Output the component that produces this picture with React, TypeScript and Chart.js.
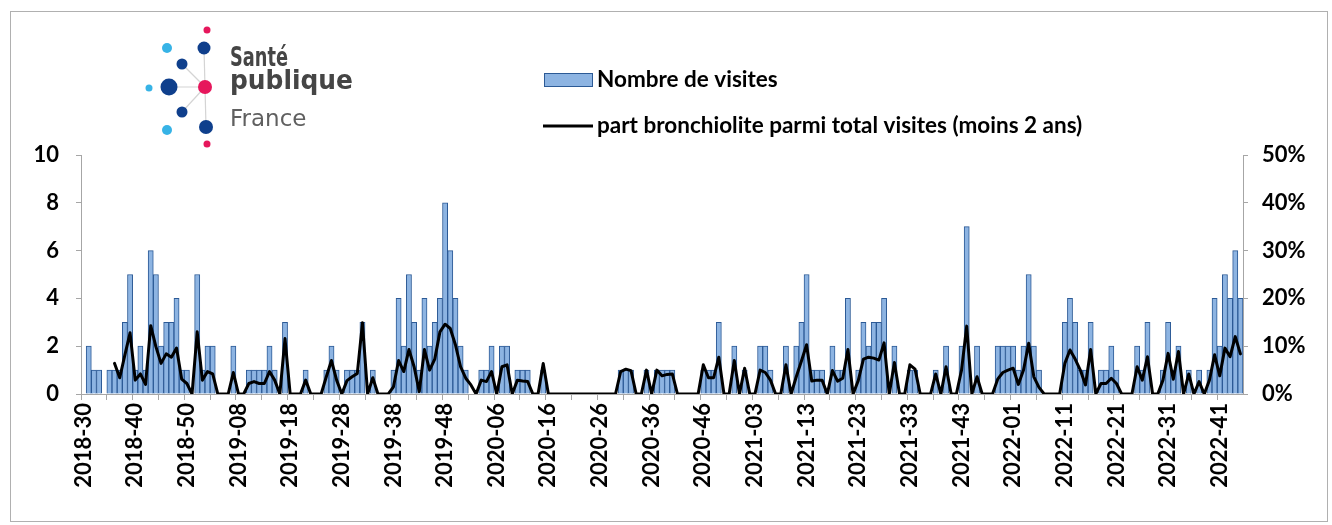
import React, { useEffect, useRef } from 'react';
import { Chart, registerables } from 'chart.js';

Chart.register(...registerables);

// ISO weeks per year covered by the chart
const yearWeeks: [number, number][] = [
  [2018, 52],
  [2019, 52],
  [2020, 53],
  [2021, 52],
  [2022, 52],
];
const firstWeek = 30;
const weekCount = 225;

function buildWeekLabels(): string[] {
  const out: string[] = [];
  let yi = 0;
  let w = firstWeek;
  while (out.length < weekCount) {
    const [y, n] = yearWeeks[yi];
    out.push(`${y}-${String(w).padStart(2, '0')}`);
    w++;
    if (w > n) {
      w = 1;
      yi++;
    }
  }
  return out;
}
const weekLabels = buildWeekLabels();

// Nombre de visites (bars, left axis)
const visits: number[] = [
  0, 2, 1, 1, 0, 1, 1, 1, 3, 5,
  1, 2, 1, 6, 5, 2, 3, 3, 4, 1,
  1, 0, 5, 1, 2, 2, 0, 0, 0, 2,
  0, 0, 1, 1, 1, 1, 2, 1, 0, 3,
  0, 0, 0, 1, 0, 0, 0, 1, 2, 1,
  0, 1, 1, 1, 3, 0, 1, 0, 0, 0,
  1, 4, 2, 5, 3, 1, 4, 2, 3, 4,
  8, 6, 4, 2, 1, 0, 0, 1, 1, 2,
  0, 2, 2, 0, 1, 1, 1, 0, 0, 1,
  0, 0, 0, 0, 0, 0, 0, 0, 0, 0,
  0, 0, 0, 0, 1, 1, 1, 0, 0, 1,
  0, 1, 1, 1, 1, 0, 0, 0, 0, 0,
  1, 1, 1, 3, 0, 0, 2, 0, 1, 0,
  0, 2, 2, 1, 0, 0, 2, 0, 2, 3,
  5, 1, 1, 1, 0, 2, 1, 1, 4, 0,
  1, 3, 2, 3, 3, 4, 0, 2, 0, 0,
  1, 1, 0, 0, 0, 1, 0, 2, 0, 0,
  2, 7, 0, 2, 0, 0, 0, 2, 2, 2,
  2, 1, 2, 5, 2, 1, 0, 0, 0, 0,
  3, 4, 3, 1, 1, 3, 0, 1, 1, 2,
  1, 0, 0, 0, 2, 1, 3, 0, 0, 1,
  3, 1, 2, 0, 1, 0, 1, 0, 1, 4,
  2, 5, 4, 6, 4,
];

// part bronchiolite parmi total visites (moins 2 ans), in % (right axis)
const sharePct: (number | null)[] = [
  null, null, null, null, null, null, 6.4, 3.4, 8.2, 12.8,
  2.9, 4.2, 2.0, 14.3, 9.9, 6.4, 8.4, 7.7, 9.6, 3.1,
  2.2, 0, 13.0, 2.9, 4.7, 4.2, 0, 0, 0, 4.5,
  0, 0, 2.2, 2.6, 2.2, 2.2, 4.7, 2.9, 0, 11.6,
  0, 0, 0, 2.9, 0, 0, 0, 3.6, 7.0, 2.9,
  0, 2.8, 3.6, 4.3, 14.9, 0, 3.4, 0, 0, 0,
  1.5, 7.0, 4.7, 9.3, 5.7, 0.5, 9.3, 5.0, 7.3, 13.0,
  14.6, 13.7, 10.3, 5.7, 3.3, 1.9, 0, 2.9, 2.6, 4.7,
  0, 5.7, 6.1, 0, 2.9, 2.7, 2.6, 0, 0, 6.4,
  0, 0, 0, 0, 0, 0, 0, 0, 0, 0,
  0, 0, 0, 0, 4.7, 5.2, 4.9, 0, 0, 5.0,
  0, 5.0, 3.8, 4.1, 4.2, 0, 0, 0, 0, 0,
  6.1, 3.4, 3.4, 7.7, 0, 0, 7.0, 0, 5.4, 0,
  0, 5.0, 4.5, 2.9, 0, 0, 6.1, 0, 3.6, 6.9,
  10.3, 2.7, 2.9, 2.9, 0, 4.9, 2.7, 3.3, 9.3, 0,
  2.8, 7.3, 7.7, 7.5, 7.1, 10.7, 0, 6.6, 0, 0,
  6.1, 5.2, 0, 0, 0, 4.2, 0, 5.7, 0, 0,
  5.0, 14.2, 0, 3.6, 0, 0, 0, 3.1, 4.5, 5.0,
  5.4, 2.0, 5.0, 10.6, 3.6, 1.4, 0, 0, 0, 0,
  6.4, 9.2, 7.3, 5.0, 1.9, 9.3, 0, 2.2, 2.2, 3.3,
  2.2, 0, 0, 0, 5.7, 2.9, 7.8, 0, 0, 2.9,
  8.5, 3.1, 8.9, 0, 4.2, 0, 2.6, 0, 2.9, 8.2,
  3.8, 9.6, 7.8, 12.0, 8.4,
];

const leftTicks = [0, 2, 4, 6, 8, 10];
const rightTicks = [0, 10, 20, 30, 40, 50];
const legendLabels = ['Nombre de visites', 'part bronchiolite parmi total visites (moins 2 ans)'];
const logoWords = ['Santé', 'publique', 'France'];

const BAR_FILL = '#8db4e2';
const BAR_EDGE = '#2c5a96';
const AXIS = '#a6a6a6';
const FONT = 'Lato, "Liberation Sans", sans-serif';

const decorPlugin = {
  id: 'decor',
  beforeDraw(chart: any) {
    const ctx = chart.ctx as CanvasRenderingContext2D;
    ctx.save();
    ctx.fillStyle = '#ffffff';
    ctx.fillRect(0, 0, chart.width, chart.height);
    ctx.strokeStyle = '#b0b0b0';
    ctx.lineWidth = 1;
    ctx.strokeRect(10.5, 11.5, 1317, 510);
    ctx.restore();
  },
  afterDraw(chart: any) {
    const ctx = chart.ctx as CanvasRenderingContext2D;
    ctx.save();
    // ---- logo ----
    const dark = '#0f3f8c';
    const light = '#37b3e6';
    const pink = '#e6175c';
    ctx.strokeStyle = '#d4d4d4';
    ctx.lineWidth = 1.2;
    const hub = [205, 87];
    const spokes = [
      [204, 48], [206, 127], [169, 87], [182, 64], [182, 112],
    ];
    spokes.forEach(([x, y]) => {
      ctx.beginPath();
      ctx.moveTo(hub[0], hub[1]);
      ctx.lineTo(x, y);
      ctx.stroke();
    });
    const dots: [number, number, number, string][] = [
      [207, 30, 3.5, pink],
      [204, 48, 6.5, dark],
      [167, 48, 5, light],
      [182, 64, 5.5, dark],
      [169, 87, 8.5, dark],
      [149, 88, 3.5, light],
      [205, 87, 7, pink],
      [182, 112, 5.5, dark],
      [167, 130, 5, light],
      [206, 127, 7, dark],
      [207, 144, 3.5, pink],
    ];
    dots.forEach(([x, y, r, c]) => {
      ctx.beginPath();
      ctx.arc(x, y, r, 0, Math.PI * 2);
      ctx.fillStyle = c;
      ctx.fill();
    });
    ctx.textBaseline = 'alphabetic';
    ctx.textAlign = 'left';
    ctx.fillStyle = '#454545';
    ctx.font = 'bold 27px "DejaVu Sans", sans-serif';
    ctx.fillText(logoWords[0], 230, 66, 58);
    ctx.fillText(logoWords[1], 230, 89, 123);
    ctx.fillStyle = '#606060';
    ctx.font = '23px "DejaVu Sans", sans-serif';
    ctx.fillText(logoWords[2], 230, 126, 80);

    // ---- legend ----
    ctx.fillStyle = BAR_FILL;
    ctx.fillRect(544, 73, 49, 14);
    ctx.strokeStyle = BAR_EDGE;
    ctx.lineWidth = 1;
    ctx.strokeRect(544.5, 73.5, 48, 13);
    ctx.strokeStyle = '#000';
    ctx.lineWidth = 3;
    ctx.beginPath();
    ctx.moveTo(543, 126);
    ctx.lineTo(593, 126);
    ctx.stroke();
    ctx.fillStyle = '#000';
    ctx.font = `bold 22.5px ${FONT}`;
    ctx.textBaseline = 'middle';
    ctx.fillText(legendLabels[0], 597, 80);
    ctx.fillText(legendLabels[1], 597, 126);
    ctx.restore();
  },
};

export default function App() {
  const ref = useRef<HTMLCanvasElement | null>(null);
  useEffect(() => {
    const canvas = ref.current;
    if (!canvas) return;
    const tickFont = { family: FONT, weight: 'bold' as const, size: 22 };
    const chart = new Chart(canvas, {
      type: 'bar',
      data: {
        labels: weekLabels,
        datasets: [
          {
            type: 'line' as const,
            label: legendLabels[1],
            data: sharePct,
            yAxisID: 'y1',
            borderColor: '#000',
            borderWidth: 3,
            pointRadius: 0,
            tension: 0,
            borderJoinStyle: 'round',
            borderCapStyle: 'round',
            order: 0,
          },
          {
            type: 'bar' as const,
            label: legendLabels[0],
            data: visits,
            yAxisID: 'y',
            backgroundColor: BAR_FILL,
            borderColor: BAR_EDGE,
            borderWidth: 1,
            barPercentage: 1,
            categoryPercentage: 1,
            order: 1,
          },
        ],
      } as any,
      options: {
        responsive: false,
        animation: false,
        devicePixelRatio: 1,
        layout: { padding: { left: 0, right: 0, top: 155, bottom: 0 } },
        plugins: { legend: { display: false }, tooltip: { enabled: false } },
        scales: {
          x: {
            grid: {
              offset: true,
              drawOnChartArea: false,
              drawTicks: true,
              tickLength: 6,
              color: (c: any) => (c.index % 5 === 0 ? AXIS : 'rgba(0,0,0,0)'),
            },
            border: { color: AXIS },
            ticks: {
              autoSkip: false,
              minRotation: 90,
              maxRotation: 90,
              padding: 3,
              color: '#000',
              font: tickFont,
              callback: (_v: any, i: number) => (i % 10 === 0 ? weekLabels[i] : ''),
            },
            afterFit: (s: any) => {
              s.height = 525 - 394;
            },
          },
          y: {
            position: 'left',
            min: leftTicks[0],
            max: leftTicks[leftTicks.length - 1],
            grid: { drawOnChartArea: false, tickLength: 5, color: AXIS },
            border: { color: AXIS },
            ticks: { stepSize: 2, padding: 17, color: '#000', font: tickFont },
            afterFit: (s: any) => {
              s.width = 81;
            },
          },
          y1: {
            position: 'right',
            min: rightTicks[0],
            max: rightTicks[rightTicks.length - 1],
            grid: { drawOnChartArea: false, tickLength: 5, color: AXIS },
            border: { color: AXIS },
            ticks: {
              stepSize: 10,
              padding: 14,
              color: '#000',
              font: tickFont,
              callback: (v: any) => `${v}%`,
            },
            afterFit: (s: any) => {
              s.width = 1332 - 1243;
            },
          },
        },
      } as any,
      plugins: [decorPlugin],
    });
    return () => chart.destroy();
  }, []);
  return (
    <div style={{ position: 'fixed', left: 0, top: 0, width: 1332, height: 525, background: '#fff' }}>
      <canvas ref={ref} width={1332} height={525} style={{ display: 'block' }} />
    </div>
  );
}
